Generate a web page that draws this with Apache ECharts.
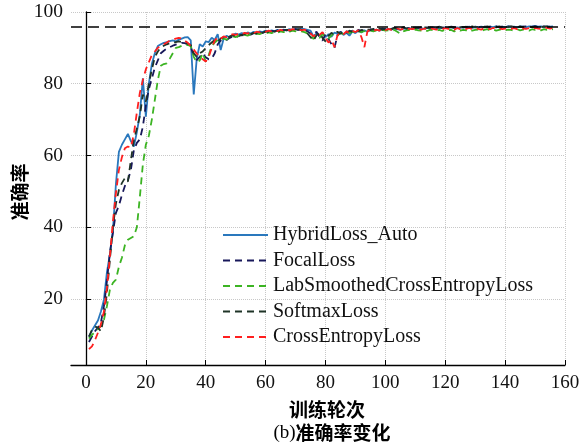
<!DOCTYPE html>
<html>
<head>
<meta charset="utf-8">
<script src="https://cdn.jsdelivr.net/npm/echarts@6/dist/echarts.min.js"></script>
<style>
  html, body {margin: 0; padding: 0; background: #fff;}
  #chart {width: 585px; height: 446px;}
</style>
</head>
<body>
<div id="chart"></div>
<script>
// accuracy (%) per training epoch
const epochs = Array.from({length: 156}, (_, i) => i + 1)

const hybridLoss = [
  9.5, 11.2, 12.6, 14.0, 16.5, 19.8, 27.5, 32.5, 39.0, 52.0,
  61.0, 63.0, 64.5, 66.0, 64.0, 62.5, 66.5, 71.5, 81.5, 70.8,
  80.0, 85.5, 88.5, 90.5, 91.0, 91.4, 91.6, 91.9, 92.1, 91.8,
  92.3, 92.6, 92.9, 93.0, 92.1, 77.0, 87.0, 91.0, 90.4, 91.8,
  91.6, 92.8, 92.2, 93.8, 89.4, 92.6, 93.4, 92.9, 93.6, 94.0,
  93.7, 94.1, 93.9, 94.3, 94.0, 94.5, 94.2, 94.6, 94.4, 94.8,
  94.6, 94.9, 94.7, 95.0, 94.8, 95.1, 94.9, 95.2, 95.0, 95.3,
  95.1, 95.4, 95.2, 95.0, 94.8, 93.2, 94.0, 93.5, 94.2, 93.0,
  93.8, 93.1, 94.3, 93.9, 94.5, 93.6, 94.2, 93.4, 94.6, 94.1,
  94.8, 94.3, 94.9, 94.5, 95.0, 94.7, 95.1, 94.8, 95.2, 95.0,
  95.3, 95.1, 95.4, 95.2, 95.0, 95.4, 95.3, 95.5, 95.2, 95.6,
  95.4, 95.5, 95.3, 95.6, 95.5, 95.7, 95.4, 95.6, 95.5, 95.7,
  95.6, 95.8, 95.5, 95.7, 95.6, 95.8, 95.7, 95.9, 95.6, 95.8,
  95.7, 95.9, 95.8, 95.7, 95.9, 95.8, 96.0, 95.7, 95.9, 95.8,
  96.0, 95.8, 95.9, 95.7, 96.0, 95.9, 95.8, 96.0, 95.9, 96.1,
  95.9, 96.0, 95.8, 96.0, 95.9, 96.0
]

const focalLoss = [
  8.0, 9.5, 11.0, 12.0, 13.5, 18.0, 25.0, 33.0, 38.5, 44.0,
  46.0, 49.0, 51.5, 53.0, 56.0, 61.5, 63.5, 64.5, 68.0, 74.0,
  78.5, 81.5, 84.5, 86.5, 88.5, 89.2, 89.8, 90.2, 90.6, 90.9,
  91.1, 91.4, 91.3, 91.0, 90.2, 88.0, 86.6, 87.5, 88.5, 87.4,
  86.8, 87.0, 88.5, 91.0, 92.0, 92.5, 92.2, 92.8, 93.1, 92.9,
  93.3, 93.6, 93.4, 93.8, 93.7, 94.1, 93.9, 94.3, 94.2, 94.5,
  94.4, 94.7, 94.6, 94.9, 94.7, 95.0, 94.9, 95.1, 94.9, 95.2,
  95.0, 95.2, 95.0, 94.6, 94.0, 93.6, 94.5, 93.0, 92.0, 93.8,
  92.5, 91.0, 90.0, 93.5, 94.4, 94.0, 94.6, 94.3, 94.8, 94.5,
  95.0, 94.7, 95.1, 94.8, 95.2, 95.0, 95.3, 95.1, 95.4, 95.2,
  95.5, 95.3, 95.6, 95.4, 95.5, 95.7, 95.4, 95.6, 95.5, 95.7,
  95.6, 95.8, 95.5, 95.7, 95.6, 95.8, 95.7, 95.9, 95.6, 95.8,
  95.7, 95.9, 95.8, 95.6, 95.9, 95.7, 95.8, 96.0, 95.7, 95.9,
  95.8, 95.7, 96.0, 95.8, 95.9, 95.7, 96.0, 95.8, 95.9, 95.8,
  96.0, 95.9, 95.7, 96.0, 95.8, 95.9, 96.0, 95.8, 95.9, 96.0,
  95.8, 95.9, 96.0, 95.8, 95.9, 96.0
]

const labSmoothedLoss = [
  9.0, 10.0, 10.8, 11.6, 12.5, 14.2, 18.0, 22.6, 24.5, 25.4,
  29.0, 31.5, 35.0, 36.5, 37.0, 37.5, 40.0, 48.5, 57.5, 63.0,
  65.5, 70.0, 75.5, 81.0, 85.0, 85.5, 85.7, 87.0, 88.5, 90.0,
  90.2, 90.6, 90.8, 90.8, 90.5, 87.5, 86.0, 86.5, 88.5, 86.2,
  88.0, 90.5, 91.5, 92.2, 92.0, 92.6, 92.3, 92.9, 93.2, 93.0,
  93.4, 93.2, 93.6, 93.4, 93.8, 93.6, 94.0, 93.8, 94.2, 94.0,
  94.3, 94.1, 94.5, 94.3, 94.6, 94.4, 94.7, 94.5, 94.8, 94.6,
  94.8, 94.6, 94.4, 94.0, 93.5, 92.5, 93.6, 92.8, 93.8, 93.2,
  92.6, 93.5, 94.0, 93.4, 94.2, 93.8, 94.4, 94.1, 94.5, 94.3,
  94.6, 94.4, 94.7, 94.5, 94.8, 94.6, 94.9, 94.7, 95.0, 94.8,
  94.9, 94.7, 95.0, 94.5, 93.9, 94.6, 94.9, 95.0, 94.7, 95.1,
  94.9, 94.8, 95.0, 94.7, 95.1, 94.9, 94.8, 95.0, 94.7, 95.1,
  94.9, 95.0, 94.6, 95.1, 94.8, 95.0, 94.9, 95.2, 94.8, 95.0,
  95.1, 94.7, 95.0, 95.2, 94.9, 95.1, 94.8, 95.0, 95.2, 94.9,
  95.1, 95.0, 94.8, 95.2, 94.9, 95.1, 95.0, 94.8, 95.2, 95.0,
  95.1, 94.9, 95.2, 95.0, 95.1, 95.2
]

const softmaxLoss = [
  9.5, 11.4, 12.3, 12.0, 11.0, 15.0, 21.7, 31.0, 40.0, 46.6,
  50.4, 52.3, 53.7, 52.7, 58.7, 64.3, 67.5, 71.0, 77.0, 75.0,
  80.0, 84.0, 87.4, 89.0, 90.2, 90.6, 91.0, 91.3, 91.3, 91.6,
  91.8, 91.6, 91.6, 91.2, 90.8, 88.5, 87.5, 88.5, 89.0, 89.9,
  90.8, 91.5, 92.2, 91.8, 92.6, 93.0, 92.6, 93.2, 93.5, 93.3,
  93.7, 93.5, 93.9, 94.1, 93.8, 94.2, 94.0, 94.4, 94.2, 94.6,
  94.4, 94.7, 94.5, 94.8, 94.6, 94.9, 95.0, 94.8, 95.1, 94.9,
  95.2, 95.0, 94.8, 94.0, 93.0, 92.0, 93.5, 94.2, 92.8, 91.8,
  93.4, 94.2, 93.6, 94.5, 93.9, 94.6, 94.2, 94.8, 94.4, 95.0,
  94.6, 95.0, 94.8, 95.2, 94.9, 95.3, 95.0, 95.4, 95.1, 95.3,
  95.5, 95.2, 95.6, 95.3, 95.5, 95.7, 95.4, 95.6, 95.8, 95.5,
  95.7, 95.5, 95.8, 95.6, 95.7, 95.9, 95.6, 95.8, 95.7, 95.9,
  95.7, 95.8, 95.6, 95.9, 95.8, 95.7, 95.9, 95.8, 96.0, 95.7,
  95.9, 95.8, 95.7, 96.0, 95.8, 95.9, 95.7, 96.0, 95.8, 95.9,
  95.8, 96.0, 95.9, 95.7, 96.0, 95.8, 95.9, 96.0, 95.8, 95.9,
  96.0, 95.8, 95.9, 96.0, 95.9, 96.0
]

const crossEntropyLoss = [
  6.0, 6.8, 8.5, 10.6, 13.0, 16.5, 23.0, 32.0, 41.5, 49.5,
  56.0, 59.5, 62.0, 62.5, 62.2, 66.0, 72.0, 77.5, 81.0, 84.0,
  86.0, 88.0, 89.0, 90.0, 90.6, 91.0, 91.5, 92.0, 92.3, 92.6,
  92.8, 92.6, 92.0, 91.4, 90.5, 89.5, 88.4, 87.5, 86.8, 86.2,
  87.5, 90.0, 92.0, 93.0, 92.6, 93.2, 93.0, 93.5, 93.8, 93.6,
  94.0, 93.8, 94.2, 94.0, 94.4, 94.1, 94.5, 94.3, 94.7, 94.5,
  94.8, 94.6, 94.9, 94.7, 95.0, 94.8, 95.1, 94.9, 95.2, 95.0,
  95.2, 94.9, 95.1, 94.6, 94.0, 93.2, 94.1, 93.6, 94.4, 92.8,
  91.5, 92.3, 90.2, 93.5, 94.2, 93.8, 94.6, 94.1, 94.8, 94.4,
  94.9, 93.0, 90.2, 94.6, 95.0, 94.7, 95.1, 94.8, 95.2, 94.9,
  95.3, 95.0, 95.2, 95.4, 95.1, 95.3, 95.0, 95.4, 95.2, 95.5,
  95.3, 95.1, 95.4, 95.2, 95.5, 95.3, 95.1, 95.4, 95.2, 95.5,
  95.3, 95.4, 95.1, 95.5, 95.2, 95.4, 95.3, 95.6, 95.2, 95.5,
  95.3, 95.1, 95.5, 95.4, 95.2, 95.6, 95.3, 95.5, 95.2, 95.4,
  95.6, 95.3, 95.5, 95.2, 95.6, 95.4, 95.3, 95.5, 95.2, 95.6,
  95.4, 95.3, 95.5, 95.6, 95.4, 95.5
]

const targetAcc = 96
const xTicks = [0, 20, 40, 60, 80, 100, 120, 140, 160]
const yTicks = [20, 40, 60, 80, 100]

const serif = '"Liberation Serif", "Times New Roman", serif'
const cjk = '"Noto Sans CJK SC", sans-serif'

const pairs = vals => vals.map((v, i) => [epochs[i], v])

const lineSeries = (name, vals, color, dashed, width) => ({
  name,
  type: 'line',
  data: pairs(vals),
  symbol: 'none',
  lineStyle: {color, width, type: dashed ? [7, 5] : 'solid'},
  itemStyle: {color},
  emphasis: {disabled: true},
  z: 3
})

const chart = echarts.init(document.getElementById('chart'))

chart.setOption({
  animation: false,
  backgroundColor: '#fff',
  grid: {left: 71, top: 12, width: 494, height: 353},
  legend: {
    orient: 'vertical',
    left: 222,
    top: 225,
    padding: 0,
    itemWidth: 45,
    itemHeight: 14,
    itemGap: 5.5,
    itemStyle: {opacity: 0},
    textStyle: {fontFamily: serif, fontSize: 20, color: '#111'},
    data: ['HybridLoss_Auto', 'FocalLoss', 'LabSmoothedCrossEntropyLoss', 'SoftmaxLoss', 'CrossEntropyLoss']
  },
  xAxis: {
    type: 'value',
    min: -5,
    max: 160,
    axisLine: {lineStyle: {color: '#000', width: 1.3}},
    axisTick: {inside: true, length: 5, customValues: xTicks, lineStyle: {color: '#000'}},
    axisLabel: {customValues: xTicks, margin: 9, fontFamily: serif, fontSize: 19, color: '#111'},
    splitLine: {show: true, lineStyle: {color: '#c8c8c8', type: 'dotted', width: 1}}
  },
  yAxis: {
    type: 'value',
    min: 1.6,
    max: 100,
    axisLine: {show: true, lineStyle: {color: '#000', width: 1.3}},
    axisTick: {show: true, inside: true, length: 5, customValues: yTicks, lineStyle: {color: '#000'}},
    axisLabel: {customValues: yTicks, margin: 8, fontFamily: serif, fontSize: 19.5, color: '#111'},
    splitLine: {show: true, lineStyle: {color: '#c8c8c8', type: 'dotted', width: 1}}
  },
  graphic: [
    {
      type: 'text', x: 20, y: 192, rotation: Math.PI / 2,
      style: {text: '准确率', font: 'bold 19px ' + cjk, fill: '#000', align: 'center', verticalAlign: 'middle'}
    },
    {
      type: 'text', x: 327, y: 410,
      style: {text: '训练轮次', font: 'bold 19px ' + cjk, fill: '#000', align: 'center', verticalAlign: 'middle'}
    },
    {
      type: 'text', x: 332, y: 433,
      style: {
        text: '{a|(b)}{b|准确率变化}',
        align: 'center', verticalAlign: 'middle',
        rich: {
          a: {fontFamily: serif, fontSize: 19, fill: '#000'},
          b: {fontFamily: cjk, fontSize: 19, fontWeight: 'bold', fill: '#000'}
        }
      }
    }
  ],
  series: [
    Object.assign(lineSeries('HybridLoss_Auto', hybridLoss, '#2a78bd', false, 1.8), {
      markLine: {
        silent: true,
        symbol: 'none',
        label: {show: false},
        lineStyle: {color: '#000', type: [11, 6], width: 1.5},
        data: [{yAxis: targetAcc}]
      }
    }),
    lineSeries('FocalLoss', focalLoss, '#17175a', true, 1.8),
    lineSeries('LabSmoothedCrossEntropyLoss', labSmoothedLoss, '#3cb423', true, 1.8),
    lineSeries('SoftmaxLoss', softmaxLoss, '#1f3427', true, 1.8),
    lineSeries('CrossEntropyLoss', crossEntropyLoss, '#ff1f1f', true, 1.8)
  ]
})
</script>
</body>
</html>
